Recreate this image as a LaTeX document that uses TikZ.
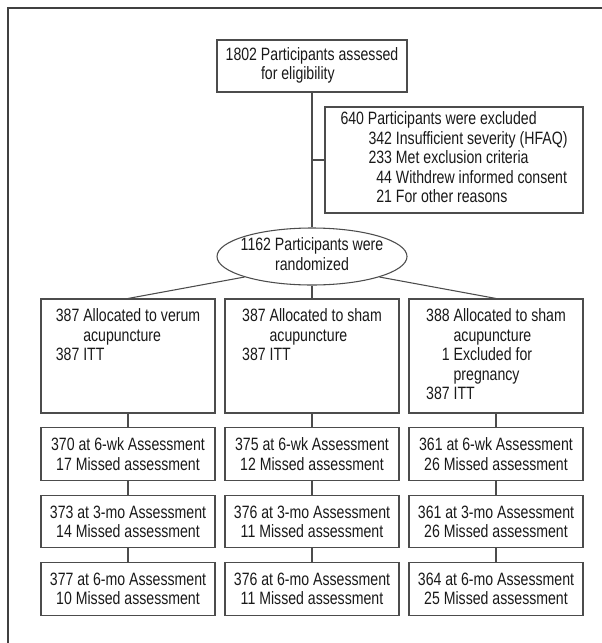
\documentclass[tikz,border=0pt]{standalone}
\usepackage{fontspec}
\setmainfont{Liberation Sans}[FakeStretch=0.79]
\usetikzlibrary{shapes.geometric}
\begin{document}
\begin{tikzpicture}[x=0.75pt,y=-0.75pt,
  txt/.style={font=\fontsize{13.4pt}{14.6pt}\selectfont, text=black!90},
  box/.style={txt, draw=black!70, line width=0.8pt, inner sep=0pt, minimum width=130.5pt},
  ell/.style={txt, ellipse, draw=black!70, line width=0.8pt, inner sep=0pt, minimum width=142.5pt, minimum height=42.75pt},
  conn/.style={draw=black!70, line width=0.8pt},
  frame/.style={draw=black!75, line width=1.3pt}]
\useasboundingbox (0,0) rectangle (602,643);
\draw[frame] (8,643) -- (8,8) -- (602,8);

\node[box, minimum width=142.5pt, minimum height=39pt] (top) at (312,66)
  {\begin{tabular}{@{}r@{ }l@{}}1802 & Participants assessed\\ & for eligibility\end{tabular}};

\node[box, minimum width=193.5pt, minimum height=79.5pt] (excl) at (454,160)
  {\begin{tabular}{@{}l@{}r@{ }l@{}}
   \multicolumn{3}{@{}l@{}}{640 Participants were excluded}\\
   \hspace{21pt} & 342 & Insufficient severity (HFAQ)\\
   & 233 & Met exclusion criteria\\
   & 44 & Withdrew informed consent\\
   & 21 & For other reasons
   \end{tabular}};

\node[ell] (ell) at (312,256.5)
  {\makebox[0pt]{\begin{tabular}{@{}c@{}}1162 Participants were\\randomized\end{tabular}}};

\node[box, minimum height=85.5pt] (a1) at (128,356)
  {\parbox[c][85.5pt][t]{130.5pt}{\centering\vspace*{7pt}\begin{tabular}{@{}r@{ }l@{}}387 & Allocated to verum\\ & acupuncture\\ 387 & ITT\end{tabular}}};
\node[box, minimum height=85.5pt] (a2) at (312,356)
  {\parbox[c][85.5pt][t]{130.5pt}{\centering\vspace*{7pt}\begin{tabular}{@{}r@{ }l@{}}387 & Allocated to sham\\ & acupuncture\\ 387 & ITT\end{tabular}}};
\node[box, minimum height=85.5pt] (a3) at (496,356)
  {\parbox[c][85.5pt][t]{130.5pt}{\centering\vspace*{7pt}\begin{tabular}{@{}r@{ }l@{}}388 & Allocated to sham\\ & acupuncture\\ 1 & Excluded for\\ & pregnancy\\ 387 & ITT\end{tabular}}};

\foreach \c/\x/\pa/\pb/\pc/\qa/\qb/\qc in
  {1/128/370/17/373/14/377/10,
   2/312/375/12/376/11/376/11,
   3/496/361/26/361/26/364/25}{
  \node[box, minimum height=39.4pt, align=center] (b\c) at (\x,454)
    {\pa{} at 6-wk Assessment\\\pb{} Missed assessment};
  \node[box, minimum height=39.2pt, align=center] (c\c) at (\x,521.7)
    {\pc{} at 3-mo Assessment\\\qa{} Missed assessment};
  \node[box, minimum height=39.2pt, align=center] (d\c) at (\x,588.9)
    {\qb{} at 6-mo Assessment\\\qc{} Missed assessment};
  \draw[conn] (a\c.south) -- (b\c.north);
  \draw[conn] (b\c.south) -- (c\c.north);
  \draw[conn] (c\c.south) -- (d\c.north);
}

\draw[conn] (top.south) -- (ell.north);
\draw[conn] (top.south |- excl.west) -- (excl.west);
\draw[conn] (ell.south west) -- (a1.north);
\draw[conn] (ell.south) -- (a2.north);
\draw[conn] (ell.south east) -- (a3.north);
\end{tikzpicture}
\end{document}
